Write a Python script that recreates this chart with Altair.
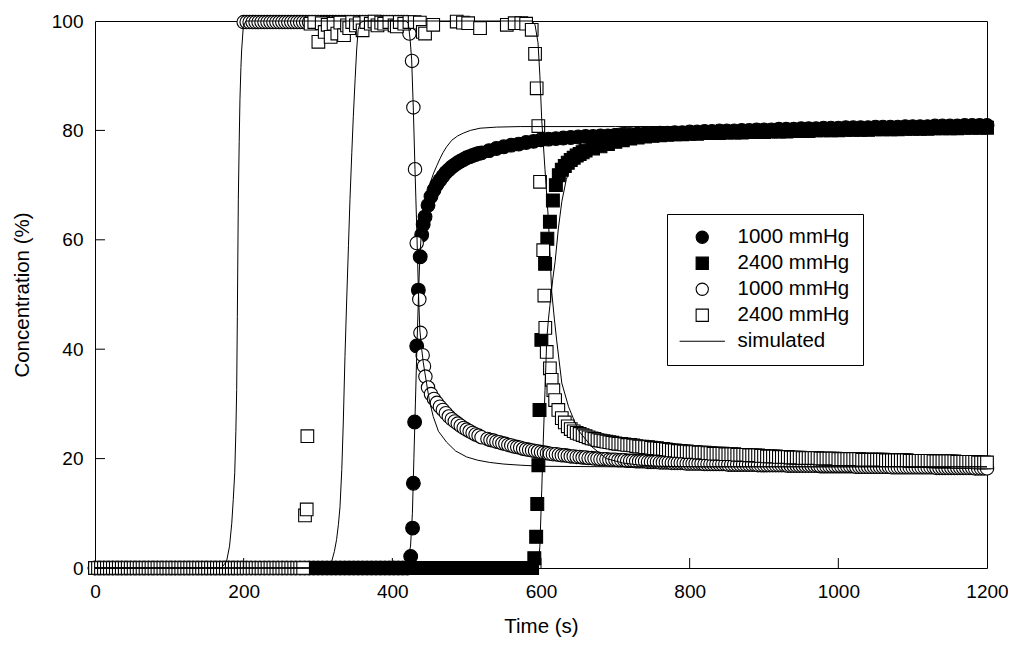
import altair as alt
import pandas as pd

# ---------------- data ----------------
# filled circles, 1000 mmHg
fc_zero_t = list(range(0, 421, 6))
fc_rise_t = [424.7, 427.2, 428.3, 430.0, 432.8, 435.0, 437.5, 439.5, 441.5]
fc_rise_v = [2.1, 7.3, 15.5, 26.7, 40.6, 50.8, 56.9, 60.9, 62.8]
fc_band1_t = list(range(444, 521, 4))
fc_band1_v = [64.2, 66.3, 67.9, 69.1, 70.1, 70.9, 71.6, 72.3, 72.8, 73.3,
              73.7, 74.1, 74.4, 74.7, 75.0, 75.2, 75.4, 75.6, 75.8, 75.9]
fc_band2_t = list(range(530, 1201, 10))
fc_band2_v = [76.3, 76.7, 77.0, 77.3, 77.5, 77.8, 78.0, 78.3,
              78.4, 78.5, 78.6, 78.7, 78.8, 78.9, 78.9, 79.0, 79.0, 79.1,
              79.2, 79.2, 79.3, 79.4, 79.4, 79.5, 79.5, 79.6, 79.6, 79.7,
              79.7, 79.8, 79.8, 79.9, 79.9, 79.9, 80.0, 80.0, 80.1, 80.1,
              80.1, 80.2, 80.2, 80.2, 80.3, 80.3, 80.3, 80.4, 80.4, 80.4,
              80.5, 80.5, 80.5, 80.5, 80.6, 80.6, 80.6, 80.6, 80.7, 80.7,
              80.7, 80.7, 80.8, 80.8, 80.8, 80.8, 80.9, 80.9, 80.9, 80.9]

# filled squares, 2400 mmHg
fs_zero_t = list(range(0, 589, 6))
fs_rise_t = [591.0, 593.5, 595.0, 596.5, 598.0, 600.5, 605.5, 608.5]
fs_rise_v = [1.8, 5.7, 11.7, 18.8, 28.9, 41.7, 55.6, 60.2]
fs_band1_t = list(range(612, 661, 4))
fs_band1_v = [63.3, 67.2, 70.0, 71.8, 72.8, 73.5, 74.1, 74.6, 75.0, 75.4,
              75.7, 76.0, 76.3]
fs_band2_t = list(range(670, 1201, 10))
fs_band2_v = [76.7, 77.1, 77.5, 77.9,
              78.2, 78.5, 78.7, 78.9, 79.0, 79.1, 79.2, 79.3, 79.3, 79.4,
              79.4, 79.5, 79.5, 79.5, 79.6, 79.6, 79.6, 79.7, 79.7, 79.7,
              79.8, 79.8, 79.8, 79.9, 79.9, 79.9, 80.0, 80.0, 80.0, 80.0,
              80.1, 80.1, 80.1, 80.1, 80.2, 80.2, 80.2, 80.2, 80.3, 80.3,
              80.3, 80.3, 80.4, 80.4, 80.4, 80.4, 80.5, 80.5, 80.5, 80.5]

# open circles, 1000 mmHg
oc_zero_t = list(range(0, 197, 4))
oc_top_t = list(range(200, 421, 4))
oc_drop_t = [423.0, 426.5, 428.3, 430.5, 432.8, 436.3, 437.8, 440.8, 442.6, 444.5]
oc_drop_v = [97.7, 92.7, 84.2, 72.9, 59.4, 49.1, 43.0, 38.9, 36.9, 35.0]
oc_band1_t = list(range(448, 521, 4))
oc_band1_v = [33.0, 31.8, 30.9, 30.2, 29.5, 28.9, 28.3, 27.7, 27.2, 26.8,
              26.4, 26.0, 25.6, 25.3, 25.0, 24.7, 24.4, 24.2, 23.9]
oc_band2_t = list(range(528, 1201, 4))
oc_band2_v = [23.6, 23.4, 23.3, 23.1, 23.0, 22.8, 22.7, 22.5, 22.4, 22.2,
              22.1, 22.0, 21.8, 21.7, 21.6, 21.5, 21.4, 21.3, 21.2, 21.1,
              21.0, 20.9, 20.8, 20.8, 20.7, 20.6, 20.6, 20.5, 20.4, 20.4,
              20.3, 20.3, 20.2, 20.2, 20.1, 20.1, 20.0, 20.0, 19.9, 19.9,
              19.9, 19.8, 19.8, 19.8, 19.7, 19.7, 19.7, 19.6, 19.6, 19.6,
              19.5, 19.5, 19.5, 19.5, 19.4, 19.4, 19.4, 19.4, 19.3, 19.3,
              19.3, 19.3, 19.2, 19.2, 19.2, 19.2, 19.2, 19.1, 19.1, 19.1,
              19.1, 19.1, 19.1, 19.0, 19.0, 19.0, 19.0, 19.0, 19.0, 19.0,
              19.0, 18.9, 18.9, 18.9, 18.9, 18.9, 18.9, 18.9, 18.9, 18.9,
              18.9, 18.8, 18.8, 18.8, 18.8, 18.8, 18.8, 18.8, 18.8, 18.8,
              18.8, 18.7, 18.7, 18.7, 18.7, 18.7, 18.7, 18.7, 18.7, 18.7,
              18.7, 18.7, 18.6, 18.6, 18.6, 18.6, 18.6, 18.6, 18.6, 18.6,
              18.6, 18.6, 18.6, 18.6, 18.5, 18.5, 18.5, 18.5, 18.5, 18.5,
              18.5, 18.5, 18.5, 18.5, 18.5, 18.5, 18.4, 18.4, 18.4, 18.4,
              18.4, 18.4, 18.4, 18.4, 18.4, 18.4, 18.4, 18.4, 18.4, 18.4,
              18.4, 18.3, 18.3, 18.3, 18.3, 18.3, 18.3, 18.3, 18.3, 18.3,
              18.3, 18.3, 18.3, 18.3, 18.2, 18.2, 18.2, 18.2, 18.2]

# open squares, 2400 mmHg
os_zero_t = list(range(0, 281, 4))
os_out_t = [282.5, 284.8, 285.7]
os_out_v = [9.6, 10.7, 24.1]
os_top_t = [290, 295, 300.5, 305, 309, 313, 317, 321, 326, 330,
            335, 339, 342, 346, 351, 356, 360, 365, 371, 376,
            380, 385, 389, 396, 403, 406, 410, 416, 423, 430,
            437, 441, 444, 455, 486.6, 495, 502, 518, 554, 564.6,
            573.5, 580]
os_top_v = [99.5, 99.8, 96.2, 99.6, 98.0, 99.3, 97.1, 99.5, 97.7, 99.7,
            97.4, 99.2, 98.7, 99.8, 99.2, 99.6, 98.3, 99.8, 99.5, 99.9,
            99.2, 99.7, 99.5, 99.8, 99.2, 99.0, 99.8, 99.5, 99.8, 99.8,
            99.7, 98.0, 97.7, 99.3, 99.9, 99.7, 99.6, 98.7, 99.3, 99.6,
            99.6, 99.5]
os_drop_t = [587.5, 592.0, 594.2, 596.4, 598.7, 603.0, 604.5, 605.8, 607.7, 612.0,
             614.4, 616.6, 619.0, 623.3]
os_drop_v = [98.4, 94.0, 87.7, 80.8, 70.6, 58.1, 49.8, 43.9, 39.5, 36.5,
             34.4, 32.5, 30.7, 28.9]
os_band1_t = list(range(628, 701, 4))
os_band1_v = [27.4, 26.6, 25.9, 25.4, 25.0, 24.7, 24.5, 24.3, 24.1, 23.9,
              23.7, 23.6, 23.4, 23.3, 23.2, 23.1, 23.0, 22.9, 22.8]
os_band2_t = list(range(704, 1201, 4))
os_band2_v = [22.7, 22.7, 22.6, 22.5, 22.5, 22.4, 22.3, 22.2, 22.2, 22.1,
              22.1, 22.0, 21.9, 21.9, 21.8, 21.8, 21.7, 21.6, 21.5, 21.5,
              21.4, 21.4, 21.3, 21.3, 21.2, 21.2, 21.2, 21.1, 21.1, 21.1,
              21.0, 21.0, 20.9, 20.9, 20.9, 20.9, 20.8, 20.8, 20.8, 20.8,
              20.7, 20.7, 20.7, 20.7, 20.6, 20.6, 20.6, 20.6, 20.5, 20.5,
              20.4, 20.4, 20.4, 20.4, 20.3, 20.3, 20.3, 20.3, 20.2, 20.2,
              20.2, 20.2, 20.1, 20.1, 20.1, 20.1, 20.1, 20.1, 20.0, 20.0,
              20.0, 20.0, 20.0, 20.0, 19.9, 19.9, 19.9, 19.9, 19.9, 19.9,
              19.9, 19.9, 19.8, 19.8, 19.8, 19.8, 19.8, 19.8, 19.8, 19.8,
              19.7, 19.7, 19.7, 19.7, 19.7, 19.7, 19.7, 19.7, 19.6, 19.6,
              19.6, 19.6, 19.6, 19.6, 19.6, 19.6, 19.5, 19.5, 19.5, 19.5,
              19.5, 19.5, 19.5, 19.5, 19.4, 19.4, 19.4, 19.4, 19.4, 19.4,
              19.4, 19.3, 19.3, 19.3, 19.3]

# simulated curves
simA_t = [0, 170, 177, 181, 184, 186, 188, 189.5, 190.6, 191.5, 192.8, 194, 195, 196.3, 197.3,
          199.5, 203, 418, 421.5, 424, 426, 428.3, 430.5, 432.8, 435, 437, 439.5, 441.7, 446,
          450, 455, 462, 473, 485, 500, 515, 531, 550, 572, 600, 700, 1200]
simA_v = [0, 0, 1.2, 4, 8.2, 12.5, 17.4, 25, 32.6, 46, 67.3, 78, 85.6, 91.5, 94.7,
          99, 100, 100, 99.6, 96.5, 92.9, 83.7, 72.8, 62.4, 51, 43.5, 40, 37.5, 33.8,
          30.5, 27.7, 25, 23, 21.4, 20.3, 19.7, 19.3, 19.0, 18.8, 18.6, 18.5, 18.5]
simB_t = [0, 405, 415, 421, 424.5, 427, 429, 431, 433, 435, 437, 439.5, 441.7, 445, 448,
          452, 455, 460, 464, 468, 473, 480, 488, 495.5, 505, 518, 540, 572, 700, 1200]
simB_v = [0, 0, 0.5, 1.5, 4, 10, 20, 30, 40, 49, 57, 62, 65.4, 67.8, 69.2,
          70.8, 72, 73.6, 74.8, 75.9, 77, 78.2, 79, 79.5, 80, 80.4, 80.6, 80.7, 80.7, 80.7]
simC_t = [0, 310, 318.4, 322, 325, 327.5, 329.6, 332, 334, 336.3, 338.6, 341, 343, 345.5,
          347.5, 350, 352, 354, 357, 362, 588, 592, 596, 598.5, 601, 605.4, 610, 614.4, 618,
          621, 628, 637, 650, 668, 688, 710, 733, 760, 800, 1200]
simC_v = [0, 0, 1.2, 3, 5.2, 8, 11.2, 18, 26.5, 38.7, 49, 59, 67.3, 76,
          82.5, 89.5, 94.7, 98.4, 99.7, 100, 100, 99.3, 96, 90, 81.9, 72.8, 63.6, 50.5, 45.5,
          41.7, 33.8, 29.5, 25.2, 22.2, 20, 19.2, 18.8, 18.6, 18.5, 18.5]
simD_t = [0, 594, 596.4, 598.5, 601, 603, 605.4, 607.7, 610, 612, 616, 619, 623.3, 628,
          634, 640, 648, 657, 666, 680, 695, 710, 730, 1200]
simD_v = [0, 0, 0.3, 4, 14.3, 23, 32.5, 41.7, 45.5, 48, 53, 56, 62, 67,
          71, 73.5, 75.5, 77, 78, 79.4, 80.2, 80.5, 80.7, 80.7]

x_ticks = [0, 200, 400, 600, 800, 1000, 1200]
y_ticks = [0, 20, 40, 60, 80, 100]
x_inner_ticks = [200, 400, 600, 800, 1000]
y_inner_ticks = [20, 40, 60, 80]

keys = ["fc", "fs", "oc", "os", "sim"]
key_labels = ["1000 mmHg", "2400 mmHg", "1000 mmHg", "2400 mmHg", "simulated"]

# ---------------- tables ----------------
def rows(key, t, v):
    return [{"t": a, "v": b, "key": key} for a, b in zip(t, v)]

fc_rows = (rows("fc", fc_zero_t, [0.0] * len(fc_zero_t)) + rows("fc", fc_rise_t, fc_rise_v)
           + rows("fc", fc_band1_t, fc_band1_v) + rows("fc", fc_band2_t, fc_band2_v))
fs_rows = (rows("fs", fs_zero_t, [0.0] * len(fs_zero_t)) + rows("fs", fs_rise_t, fs_rise_v)
           + rows("fs", fs_band1_t, fs_band1_v) + rows("fs", fs_band2_t, fs_band2_v))
oc_rows = (rows("oc", oc_zero_t, [0.0] * len(oc_zero_t)) + rows("oc", oc_top_t, [99.8] * len(oc_top_t))
           + rows("oc", oc_drop_t, oc_drop_v) + rows("oc", oc_band1_t, oc_band1_v)
           + rows("oc", oc_band2_t, oc_band2_v))
os_rows = (rows("os", os_zero_t, [0.0] * len(os_zero_t)) + rows("os", os_out_t, os_out_v)
           + rows("os", os_top_t, os_top_v) + rows("os", os_drop_t, os_drop_v)
           + rows("os", os_band1_t, os_band1_v) + rows("os", os_band2_t, os_band2_v))

sim_rows = []
for name, t, v in [("A", simA_t, simA_v), ("B", simB_t, simB_v), ("C", simC_t, simC_v), ("D", simD_t, simD_v)]:
    for a, b in zip(t, v):
        sim_rows.append({"t": a, "v": b, "key": "sim", "curve": name})

FONT = "Liberation Sans"
W, H = 892, 547

xscale = alt.Scale(domain=[0, 1200], nice=False, zero=False)
yscale = alt.Scale(domain=[0, 100], nice=False)
shape_scale = alt.Scale(domain=keys, range=["circle", "square", "circle", "square", "M-3.7,0H3.7"])
fill_scale = alt.Scale(domain=keys, range=["black", "black", "white", "white", "transparent"])
stroke_scale = alt.Scale(domain=keys, range=["black", "black", "black", "black", "black"])

label_expr = "{" + ",".join("'%s':'%s'" % (k, l) for k, l in zip(keys, key_labels)) + "}[datum.label]"

xaxis = alt.Axis(values=x_ticks, format="d", title="Time (s)", grid=False, domain=False, ticks=True, tickSize=0,
                 labelPadding=14, labelFont=FONT, labelFontSize=19, labelColor="black",
                 labelFlush=False, labelOverlap=False,
                 titleFont=FONT, titleFontSize=20.5, titleFontWeight="normal", titleColor="black",
                 titleX=W / 2, titleY=64, titleBaseline="alphabetic", titleAlign="center")
yaxis = alt.Axis(values=y_ticks, format="d", title="Concentration (%)", grid=False, domain=False, ticks=True,
                 tickSize=0, labelPadding=12, labelFont=FONT, labelFontSize=19, labelColor="black",
                 labelFlush=False, labelOverlap=False,
                 titleFont=FONT, titleFontSize=20.5, titleFontWeight="normal", titleColor="black",
                 titleX=-67, titleY=H / 2, titleAngle=270, titleBaseline="alphabetic", titleAlign="center")

leg = alt.Legend(title=None, labelExpr=label_expr)


def point_layer(data, size):
    return alt.Chart(pd.DataFrame(data)).mark_point(filled=True, opacity=1, strokeWidth=1.1, size=size).encode(
        x=alt.X("t:Q", scale=xscale, axis=xaxis),
        y=alt.Y("v:Q", scale=yscale, axis=yaxis),
        shape=alt.Shape("key:N", scale=shape_scale, legend=leg),
        fill=alt.Fill("key:N", scale=fill_scale, legend=leg),
        stroke=alt.Stroke("key:N", scale=stroke_scale, legend=leg),
    )


fc_layer = point_layer(fc_rows, 190)
fs_layer = point_layer(fs_rows, 165)
oc_layer = point_layer(oc_rows, 180)
os_layer = point_layer(os_rows, 160)

sim_layer = alt.Chart(pd.DataFrame(sim_rows)).mark_line(strokeWidth=1).encode(
    x=alt.X("t:Q", scale=xscale, axis=xaxis),
    y=alt.Y("v:Q", scale=yscale, axis=yaxis),
    detail="curve:N",
    stroke=alt.Stroke("key:N", scale=stroke_scale, legend=leg),
)

xt_layer = alt.Chart(pd.DataFrame({"t": x_inner_ticks})).mark_rule(color="black", strokeWidth=1).encode(
    x=alt.X("t:Q", scale=xscale, axis=xaxis), y=alt.value(H), y2=alt.value(H - 10))
yt_layer = alt.Chart(pd.DataFrame({"v": y_inner_ticks})).mark_rule(color="black", strokeWidth=1).encode(
    y=alt.Y("v:Q", scale=yscale, axis=yaxis), x=alt.value(0), x2=alt.value(10))

chart = alt.layer(fc_layer, fs_layer, oc_layer, os_layer, sim_layer, xt_layer, yt_layer).properties(
    width=W, height=H,
    autosize=alt.AutoSizeParams(type="none"),
    padding={"left": 87, "top": 13, "right": 21, "bottom": 69},
    background="white",
).configure_view(stroke="black", strokeWidth=1).configure_legend(
    orient="none", legendX=572, legendY=193,
    padding=13, rowPadding=5, labelOffset=25, symbolOffset=12,
    labelFont=FONT, labelFontSize=20.5, labelColor="black",
    symbolSize=150, symbolStrokeWidth=1.1, symbolOpacity=1,
    strokeColor="black", fillColor="white", strokeWidth=1, cornerRadius=0,
)

chart.save("out.html", embed_options={"renderer": "svg", "actions": False})
